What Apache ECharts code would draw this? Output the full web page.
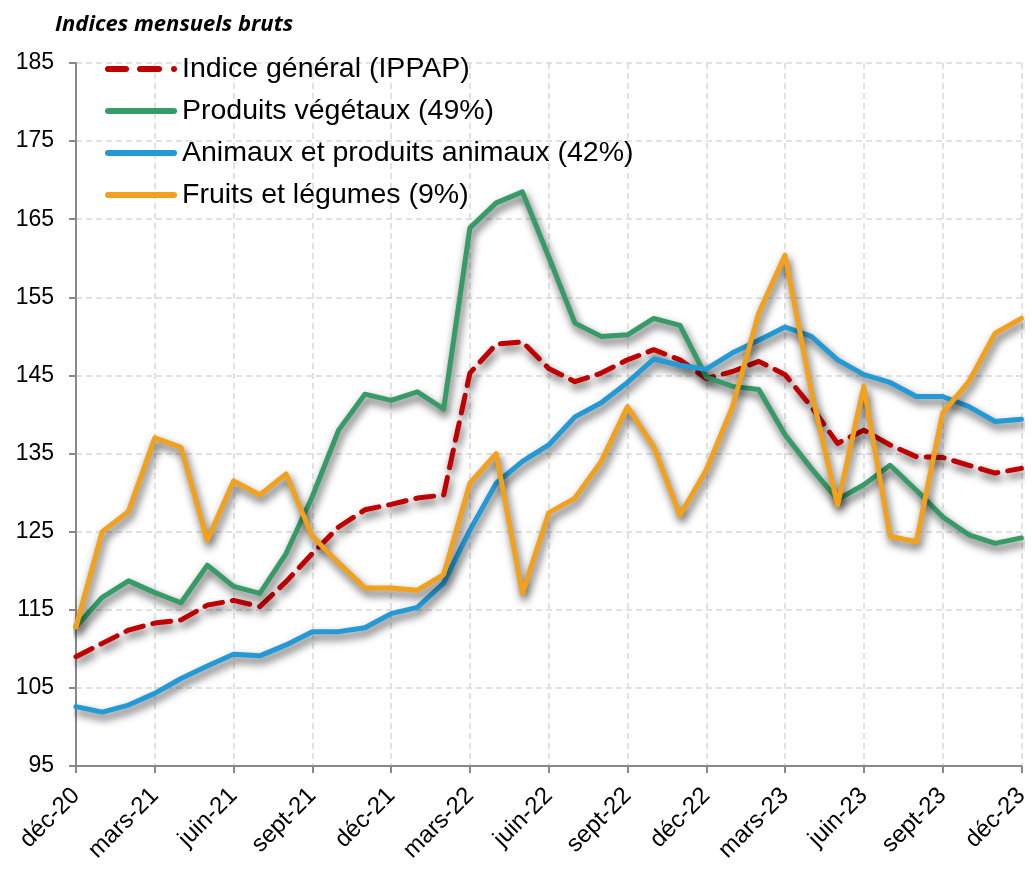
<!DOCTYPE html>
<html>
<head>
<meta charset="utf-8">
<script src="https://cdn.jsdelivr.net/npm/echarts@6/dist/echarts.min.js"></script>
<style>
  html, body { margin: 0; padding: 0; background: #fff; }
  #chart { width: 1032px; height: 869px; }
</style>
</head>
<body>
<div id="chart"></div>
<script>
const months = [
  'déc-20', 'janv-21', 'févr-21', 'mars-21', 'avr-21', 'mai-21', 'juin-21', 'juil-21', 'août-21', 'sept-21', 'oct-21', 'nov-21',
  'déc-21', 'janv-22', 'févr-22', 'mars-22', 'avr-22', 'mai-22', 'juin-22', 'juil-22', 'août-22', 'sept-22', 'oct-22', 'nov-22',
  'déc-22', 'janv-23', 'févr-23', 'mars-23', 'avr-23', 'mai-23', 'juin-23', 'juil-23', 'août-23', 'sept-23', 'oct-23', 'nov-23',
  'déc-23'
]

const ippap = [
  109.0, 110.7, 112.4, 113.3, 113.7, 115.6, 116.2, 115.4, 118.6, 122.2, 125.6, 127.8,
  128.5, 129.3, 129.7, 145.3, 149.0, 149.3, 145.9, 144.2, 145.3, 147.0, 148.3, 147.0,
  144.6, 145.5, 146.8, 145.1, 141.0, 136.3, 138.0, 136.1, 134.6, 134.5, 133.5, 132.5,
  133.1
]

const vegetaux = [
  112.8, 116.6, 118.7, 117.2, 115.9, 120.7, 118.0, 117.1, 122.2, 129.5, 138.0, 142.6,
  141.8, 142.9, 140.7, 163.9, 167.1, 168.5, 160.2, 151.7, 150.0, 150.2, 152.3, 151.4,
  144.8, 143.6, 143.2, 137.4, 133.1, 129.1, 131.0, 133.5, 130.3, 126.9, 124.6, 123.5,
  124.2
]

const animaux = [
  102.6, 101.9, 102.8, 104.3, 106.2, 107.8, 109.3, 109.1, 110.5, 112.2, 112.2, 112.7,
  114.5, 115.3, 118.4, 125.2, 131.2, 134.0, 136.1, 139.7, 141.5, 144.1, 147.1, 146.3,
  145.8, 147.9, 149.5, 151.2, 150.0, 147.0, 145.1, 144.1, 142.3, 142.3, 141.0, 139.1,
  139.4
]

const fruits = [
  112.8, 125.0, 127.6, 137.0, 135.8, 123.9, 131.5, 129.7, 132.4, 124.4, 121.0, 117.8,
  117.8, 117.5, 119.5, 131.2, 135.0, 117.1, 127.4, 129.3, 134.0, 141.0, 135.9, 127.1,
  132.9, 141.0, 153.0, 160.4, 143.0, 128.4, 143.6, 124.4, 123.7, 140.2, 144.2, 150.4,
  152.3
]

const names = [
  'Indice général (IPPAP)',
  'Produits végétaux (49%)',
  'Animaux et produits animaux (42%)',
  'Fruits et légumes (9%)'
]
const colors = ['#C00000', '#379B68', '#2399D6', '#F2A11C']

const font = '"Liberation Sans", Arial, sans-serif'
const every3 = (i) => i % 3 === 0

// legend keys: rounded bars, the first one dash-dash-dot like the reference
const solidIcon = 'path://M3,0H69A3,3 0 0 1 69,6H3A3,3 0 0 1 3,0Z'
const dashIcon = 'path://M3,0H21A3,3 0 0 1 21,6H3A3,3 0 0 1 3,0Z' +
  'M35,0H54A3,3 0 0 1 54,6H35A3,3 0 0 1 35,0Z' +
  'M69,0A3,3 0 0 1 69,6A3,3 0 0 1 69,0Z'

function makeSeries (name, data, color, dashed) {
  return {
    name: name,
    type: 'line',
    data: data,
    symbol: 'none',
    lineStyle: {
      color: color,
      width: 5,
      type: dashed ? [18, 10] : 'solid',
      cap: 'round',
      join: 'round',
      shadowColor: 'rgba(0,0,0,0.7)',
      shadowBlur: 8,
      shadowOffsetX: 2,
      shadowOffsetY: 5
    },
    itemStyle: { color: color }
  }
}

const option = {
  animation: false,
  backgroundColor: '#fff',
  title: {
    text: 'Indices mensuels bruts',
    left: 50,
    top: 9,
    textStyle: {
      fontFamily: '"Open Sans", sans-serif',
      fontStyle: 'italic',
      fontWeight: 'bold',
      fontSize: 22,
      color: '#000'
    }
  },
  legend: {
    orient: 'vertical',
    left: 100,
    top: 49,
    itemWidth: 72,
    itemHeight: 6,
    itemGap: 12,
    data: [
      { name: names[0], icon: dashIcon },
      { name: names[1], icon: solidIcon },
      { name: names[2], icon: solidIcon },
      { name: names[3], icon: solidIcon }
    ],
    textStyle: {
      fontFamily: font,
      fontSize: 28.5,
      color: '#000',
      lineHeight: 30,
      padding: [0, 0, 0, 0]
    }
  },
  grid: {
    left: 76,
    right: 8,
    top: 63,
    bottom: 103,
    containLabel: false
  },
  xAxis: {
    type: 'category',
    boundaryGap: false,
    data: months,
    axisLine: { lineStyle: { color: '#888', width: 2 } },
    axisTick: { show: true, interval: (i) => every3(i), length: 7, lineStyle: { color: '#888', width: 2 } },
    axisLabel: {
      interval: (i) => every3(i),
      rotate: 45,
      margin: 26,
      fontFamily: font,
      fontSize: 24,
      color: '#000'
    },
    splitLine: {
      show: true,
      interval: (i) => every3(i),
      lineStyle: { color: '#d9d9d9', width: 1.5, type: [6, 4] }
    }
  },
  yAxis: {
    type: 'value',
    min: 95,
    max: 185,
    interval: 10,
    axisLine: { show: true, lineStyle: { color: '#888', width: 2 } },
    axisTick: { show: true, length: 7, lineStyle: { color: '#888', width: 2 } },
    axisLabel: {
      margin: 22,
      fontFamily: font,
      fontSize: 23,
      color: '#000'
    },
    splitLine: {
      show: true,
      lineStyle: { color: '#d9d9d9', width: 1.5, type: [6, 4] }
    }
  },
  series: [
    makeSeries(names[0], ippap, colors[0], true),
    makeSeries(names[1], vegetaux, colors[1], false),
    makeSeries(names[2], animaux, colors[2], false),
    makeSeries(names[3], fruits, colors[3], false)
  ]
}

const chart = echarts.init(document.getElementById('chart'))
chart.setOption(option)
window.addEventListener('resize', () => chart.resize())
</script>
</body>
</html>
